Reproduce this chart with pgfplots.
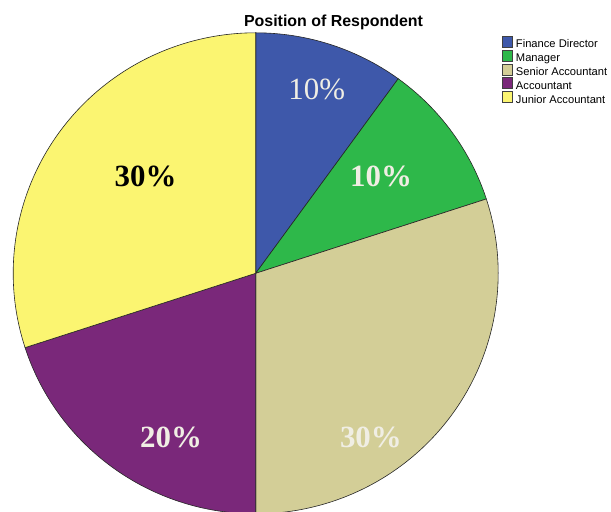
\documentclass[border=0pt]{standalone}
\usepackage{pgfplots}
\pgfplotsset{compat=1.18}
\usepackage{pgfplotstable}
\usepackage{fontspec}
\setmainfont{Liberation Sans}
\newfontfamily\timesfont{Liberation Serif}

\definecolor{cFD}{RGB}{62,88,170}
\definecolor{cMG}{RGB}{46,184,74}
\definecolor{cSA}{RGB}{211,206,151}
\definecolor{cAC}{RGB}{122,40,122}
\definecolor{cJA}{RGB}{251,245,113}
\definecolor{cLab}{RGB}{240,238,228}

% share of respondents (%) per position, clockwise from 12 o'clock
\pgfplotstableread{
pos value color
FD  10 cFD
MG  10 cMG
SA  30 cSA
AC  20 cAC
JA  30 cJA
}\piedata

\pgfplotsset{
  pieleg/.style={legend image code/.code={
    \draw[##1, draw=black!75, line width=0.6bp] (0bp,-1.7bp) rectangle (10.5bp,9.3bp);}},
}

\begin{document}
\begin{tikzpicture}
\useasboundingbox (0,0) rectangle (611bp,512bp);
\begin{axis}[
  at={(255.7bp,238.7bp)}, anchor=center,
  scale only axis, width=485bp, height=481bp,
  xmin=-1, xmax=1, ymin=-1, ymax=1,
  hide axis, clip=false,
  title={Position of Respondent},
  every axis title shift=0pt,
  title style={at={(0.6604,1.0141)}, anchor=base,
    font=\bfseries\fontsize{16}{16}\selectfont},
  legend style={at={(1.0072,0.994)}, anchor=north west,
    draw=none, fill=none, inner sep=0pt, row sep=-1.25bp, column sep=3bp,
    font=\fontsize{11.2}{11.2}\selectfont,
    nodes={inner sep=0pt, text height=8bp, text depth=3bp},
    cells={anchor=west}},
]
\def\cum{0}
\pgfplotsforeachungrouped \i in {0,...,4}{
  \pgfplotstablegetelem{\i}{value}\of\piedata \let\v\pgfplotsretval
  \pgfplotstablegetelem{\i}{color}\of\piedata \let\c\pgfplotsretval
  \pgfmathsetmacro\a{90-3.6*\cum}
  \pgfmathsetmacro\b{90-3.6*(\cum+\v)}
  \edef\temp{\noexpand\fill[\c, draw=black!85, line width=0.6bp]
    (axis cs:0,0) -- (axis cs:{cos(\a)},{sin(\a)})
    arc[start angle=\a, end angle=\b, x radius=242.5bp, y radius=240.5bp] -- cycle;}
  \temp
  \pgfmathsetmacro\cum{\cum+\v}
}
\addlegendimage{pieleg, fill=cFD}\addlegendentry{Finance Director}
\addlegendimage{pieleg, fill=cMG}\addlegendentry{Manager}
\addlegendimage{pieleg, fill=cSA}\addlegendentry{Senior Accountant}
\addlegendimage{pieleg, fill=cAC}\addlegendentry{Accountant}
\addlegendimage{pieleg, fill=cJA}\addlegendentry{Junior Accountant}

\tikzset{lab/.style={font=\timesfont\fontsize{31}{31}\selectfont, inner sep=0pt, text=cLab},
  blab/.style={lab, font=\timesfont\bfseries\fontsize{31}{31}\selectfont}}
\node[lab]  at (axis cs:0.2515,0.764) {10\%};
\node[blab] at (axis cs:0.517,0.4025) {10\%};
\node[blab] at (axis cs:0.475,-0.683) {30\%};
\node[blab] at (axis cs:-0.349,-0.683) {20\%};
\node[blab, text=black] at (axis cs:-0.454,0.4046) {30\%};
\end{axis}
\end{tikzpicture}
\end{document}
